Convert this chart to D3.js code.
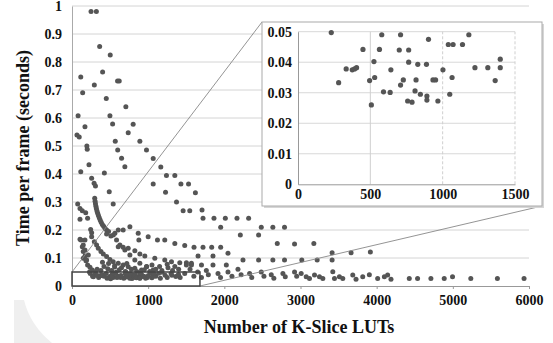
<!DOCTYPE html>
<html>
<head>
<meta charset="utf-8">
<script src="https://cdn.jsdelivr.net/npm/d3@7"></script>
<style>
  body { margin: 0; background: #fff; }
  svg { display: block; }
  text { font-family: "Liberation Serif", "Times New Roman", serif; font-weight: bold; fill: #111; }
</style>
</head>
<body>
<div id="chart"></div>
<script>
// valeurs : [nombre de LUTs, temps par frame]
const upperPoints = [
  [250,0.98],[320,0.98],[363,0.855],[502,0.825],[402,0.764],[115,0.746],[598,0.732],[620,0.732],
  [293,0.718],[140,0.69],[450,0.67],[707,0.64],[80,0.608],[498,0.608],[170,0.569],[533,0.579],
  [803,0.578],[65,0.539],[95,0.532],[738,0.547],[568,0.517],[600,0.486],[651,0.456],[694,0.426],
  [891,0.517],[978,0.486],[1066,0.455],[1166,0.425],[195,0.5],[200,0.488],[223,0.433],[115,0.408],
  [425,0.404],[1240,0.395],[1350,0.395],[258,0.385],[290,0.367],[308,0.357],[1066,0.364],[1430,0.364],
  [1530,0.364],[489,0.337],[1228,0.335],[1620,0.333],[1372,0.3],[75,0.293],[105,0.277],[135,0.269],
  [180,0.262],[541,0.293]
];
const chainPoints = [
  [298,0.313],[303,0.303],[308,0.294],[314,0.285],[320,0.277],[328,0.268],[337,0.26],[347,0.252],
  [358,0.244],[370,0.236],[383,0.228],[398,0.22],[415,0.213],[433,0.206],[455,0.2],[480,0.195],
  [542,0.182],[585,0.164],[629,0.146],[694,0.129],[760,0.111],[825,0.093],[891,0.081],[978,0.069],[1066,0.057]
];
const midPoints = [
  [105,0.238],[205,0.242],[245,0.202],[258,0.19],[454,0.186],[511,0.179],[563,0.188],[607,0.2],
  [672,0.2],[760,0.212],[869,0.188],[878,0.164],[1000,0.176],[1122,0.164],[1218,0.164],[105,0.167],
  [170,0.164],[148,0.146],[1459,0.269],[1546,0.269],[1707,0.271],[1720,0.242],[1864,0.242],[2013,0.242],
  [2166,0.242],[2319,0.242],[1952,0.21],[2485,0.21],[2637,0.21],[2790,0.21],[2210,0.182],[2450,0.182],
  [2695,0.152],[2922,0.15],[3175,0.152],[1350,0.152],[1480,0.145],[1602,0.138],[1720,0.138],[1834,0.138],
  [1952,0.138],[607,0.14],[672,0.138],[738,0.135],[825,0.126],[891,0.114],[956,0.107],[1655,0.107],
  [1851,0.107],[2048,0.117],[3415,0.119],[3664,0.119],[3917,0.121]
];
const curveB = [
  [258,0.176],[293,0.158],[323,0.146],[345,0.135],[380,0.123],[411,0.114],[454,0.105],[498,0.095],
  [541,0.087],[607,0.081],[672,0.075],[738,0.069],[825,0.063],[913,0.057]
];
const curveC = [
  [118,0.164],[135,0.14],[148,0.123],[170,0.107],[183,0.09],[205,0.075],[236,0.067],[266,0.057],[310,0.051]
];
const lowPoints = [
  [1087,0.099],[1218,0.093],[1306,0.087],[1415,0.083],[1502,0.083],[1568,0.081],[148,0.099],[192,0.093],
  [170,0.129],[214,0.111],[1502,0.075],[1568,0.075],[1700,0.075],[1851,0.075],[2026,0.075],[2245,0.093],
  [2450,0.093],[2637,0.093],[2790,0.093],[3017,0.093],[3219,0.093],[3415,0.093],
  [400,0.085],[480,0.08],[560,0.072],[650,0.065],[720,0.08],[980,0.07],[1050,0.075],[1150,0.07],
  [1250,0.078],[1350,0.07]
];
const bandPoints = [
  [330,0.06],[380,0.055],[420,0.07],[470,0.062],[520,0.055],[560,0.068],[620,0.058],[700,0.052],
  [780,0.06],[850,0.052],[950,0.058],[1020,0.052],[1100,0.06],[1180,0.055],[1260,0.065],[1320,0.055],
  [1400,0.06],[240,0.045],[270,0.035],[300,0.04],[350,0.03],[420,0.035],[460,0.028],[540,0.03],
  [600,0.035],[680,0.028],[740,0.035],[800,0.04],[860,0.03],[920,0.038],[990,0.03],[1100,0.035],
  [1160,0.028],[1250,0.03],[1300,0.045],[1420,0.03],[1480,0.045],[1550,0.06],[1600,0.035],[1650,0.05],[1700,0.03]
];
const tailPoints = [
  [1764,0.055],[1790,0.04],[1917,0.045],[1950,0.03],[2048,0.05],[2100,0.035],[2179,0.06],[2220,0.04],
  [2332,0.045],[2360,0.03],[2485,0.05],[2520,0.035],[2616,0.04],[2650,0.028],[2769,0.045],[2800,0.033],
  [2922,0.05],[2950,0.035],[3009,0.045],[3075,0.033],[3118,0.027],[3184,0.039],[3249,0.033],[3293,0.027],
  [3424,0.051],[3446,0.027],[3511,0.033],[3555,0.027],[3686,0.039],[3729,0.024],[3817,0.033],[3904,0.04],
  [4013,0.027],[4101,0.033],[4144,0.039],[4188,0.024],[4428,0.027],[4537,0.027],[4712,0.027],[4887,0.027],
  [4996,0.033],[5236,0.027],[5585,0.027],[5935,0.027]
];
// points du zoom (0 - 1500, 0 - 0.05)
const insetPoints = [
  [230,0.0497],[281,0.0333],[333,0.0378],[375,0.0375],[391,0.0378],[405,0.0382],[449,0.0442],[495,0.034],
  [507,0.026],[525,0.0402],[530,0.035],[563,0.0442],[579,0.049],[591,0.0303],[637,0.0301],[642,0.0375],
  [700,0.044],[709,0.049],[709,0.0325],[728,0.0342],[758,0.0273],[765,0.044],[765,0.040],[788,0.0269],
  [809,0.0306],[816,0.0342],[828,0.0393],[846,0.0295],[888,0.0393],[891,0.0289],[891,0.0276],[902,0.0475],
  [933,0.0342],[951,0.0342],[967,0.0273],[1002,0.0375],[1039,0.0458],[1049,0.0295],[1065,0.035],[1072,0.0458],
  [1137,0.0458],[1181,0.049],[1223,0.0382],[1312,0.0382],[1363,0.034],[1398,0.0382],[1398,0.041]
];
const yTicks = [0, 0.1, 0.2, 0.3, 0.4, 0.5, 0.6, 0.7, 0.8, 0.9, 1];
const xTicks = [0, 1000, 2000, 3000, 4000, 5000, 6000];
const insetYTicks = [0, 0.01, 0.02, 0.03, 0.04, 0.05];
const insetXTicks = [0, 500, 1000, 1500];
const zoomBox = { xMax: 1680, yMax: 0.05 };

const allPoints = [].concat(upperPoints, chainPoints, midPoints, curveB, curveC,
  lowPoints, bandPoints, tailPoints, insetPoints);

const W = 553, H = 343;
const svg = d3.select('#chart').append('svg').attr('width', W).attr('height', H);

// petite forme grise en bas a gauche
svg.append('path')
  .attr('d', 'M14,300 L24,300 Q30,325 52,343 L14,343 Z')
  .attr('fill', '#efefef');

const x = d3.scaleLinear().domain([0, 6000]).range([72, 529]);
const y = d3.scaleLinear().domain([0, 1]).range([286, 6]);

// grille horizontale
svg.append('g').selectAll('line').data(yTicks.filter(d => d > 0)).join('line')
  .attr('x1', x(0)).attr('x2', x(6000))
  .attr('y1', d => y(d)).attr('y2', d => y(d))
  .attr('stroke', '#d4d4d4').attr('stroke-width', 1);

// axes
const yAxis = d3.axisLeft(y).tickValues(yTicks).tickSize(0).tickPadding(10).tickFormat(d3.format('~g'));
svg.append('g').attr('transform', `translate(${x(0)},0)`).call(yAxis)
  .call(g => g.select('.domain').attr('stroke', '#aaa'))
  .call(g => g.selectAll('text').style('font-size', '14px').attr('fill', '#111'));

const xAxis = d3.axisBottom(x).tickValues(xTicks).tickSize(3).tickPadding(6).tickFormat(d3.format('d'));
svg.append('g').attr('transform', `translate(0,${y(0)})`).call(xAxis)
  .call(g => g.select('.domain').attr('stroke', '#999'))
  .call(g => g.selectAll('line').attr('stroke', '#999'))
  .call(g => g.selectAll('text').style('font-size', '14px').attr('fill', '#111'));

// points
svg.append('g').selectAll('circle').data(allPoints).join('circle')
  .attr('cx', d => x(d[0])).attr('cy', d => y(d[1]))
  .attr('r', 2.5).attr('fill', '#555');

// titres
svg.append('text')
  .attr('x', 299).attr('y', 333)
  .attr('text-anchor', 'middle')
  .style('font-size', '18px')
  .text('Number of K-Slice LUTs');

svg.append('text')
  .attr('transform', 'translate(29,148) rotate(-90)')
  .attr('text-anchor', 'middle')
  .style('font-size', '18px')
  .text('Time per frame (seconds)');

// rectangle de zoom + lignes de liaison
const frame = { x0: 262, y0: 22, x1: 542, y1: 206 };
svg.append('line')
  .attr('x1', x(0)).attr('y1', y(zoomBox.yMax)).attr('x2', frame.x0).attr('y2', frame.y0)
  .attr('stroke', '#888').attr('stroke-width', 0.9);
svg.append('line')
  .attr('x1', x(zoomBox.xMax)).attr('y1', y(0)).attr('x2', frame.x1).attr('y2', frame.y1)
  .attr('stroke', '#888').attr('stroke-width', 0.9);
svg.append('rect')
  .attr('x', x(0)).attr('y', y(zoomBox.yMax))
  .attr('width', x(zoomBox.xMax) - x(0)).attr('height', y(0) - y(zoomBox.yMax))
  .attr('fill', 'none').attr('stroke', '#444').attr('stroke-width', 1.5);

// encart
svg.append('rect')
  .attr('x', frame.x0 + 2).attr('y', frame.y0 + 2)
  .attr('width', frame.x1 - frame.x0).attr('height', frame.y1 - frame.y0)
  .attr('fill', '#d6d6d6');
svg.append('rect')
  .attr('x', frame.x0).attr('y', frame.y0)
  .attr('width', frame.x1 - frame.x0).attr('height', frame.y1 - frame.y0)
  .attr('fill', '#fff').attr('stroke', '#aaa').attr('stroke-width', 1);

const ix = d3.scaleLinear().domain([0, 1500]).range([298, 515]);
const iy = d3.scaleLinear().domain([0, 0.05]).range([184.3, 31.7]);

const inset = svg.append('g');
inset.selectAll('line.h').data(insetYTicks.filter(d => d > 0)).join('line')
  .attr('class', 'h')
  .attr('x1', ix(0)).attr('x2', ix(1500))
  .attr('y1', d => iy(d)).attr('y2', d => iy(d))
  .attr('stroke', '#d8d8d8');
inset.selectAll('line.v').data(insetXTicks.filter(d => d > 0)).join('line')
  .attr('class', 'v')
  .attr('x1', d => ix(d)).attr('x2', d => ix(d))
  .attr('y1', iy(0)).attr('y2', iy(0.05))
  .attr('stroke', '#cfcfcf')
  .attr('stroke-dasharray', d => d === 500 ? null : '3,2');

const iyAxis = d3.axisLeft(iy).tickValues(insetYTicks).tickSize(0).tickPadding(6).tickFormat(d3.format('~g'));
inset.append('g').attr('transform', `translate(${ix(0)},0)`).call(iyAxis)
  .call(g => g.select('.domain').attr('stroke', '#999'))
  .call(g => g.selectAll('text').style('font-size', '14px').attr('fill', '#111'));

const ixAxis = d3.axisBottom(ix).tickValues(insetXTicks).tickSize(0).tickPadding(5).tickFormat(d3.format('d'));
inset.append('g').attr('transform', `translate(0,${iy(0)})`).call(ixAxis)
  .call(g => g.select('.domain').attr('stroke', '#999'))
  .call(g => g.selectAll('text').style('font-size', '14px').attr('fill', '#111'));

inset.append('g').selectAll('circle').data(insetPoints).join('circle')
  .attr('cx', d => ix(d[0])).attr('cy', d => iy(d[1]))
  .attr('r', 2.6).attr('fill', '#555');
</script>
</body>
</html>
